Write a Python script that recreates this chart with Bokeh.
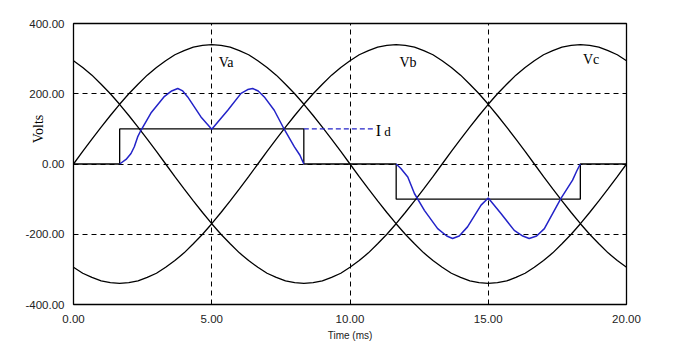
from bokeh.plotting import figure
from bokeh.models import Label, NumeralTickFormatter, FixedTicker
from bokeh.embed import file_html
from bokeh.resources import INLINE

# ---- data ----
t = [round(j / 3, 4) for j in range(61)]  # time in ms, sampling grid
va = [0, 36, 71, 105, 138, 170, 200, 227, 253, 275, 294, 311, 323, 333, 338, 340,
      338, 333, 323, 311, 294, 275, 253, 227, 200, 170, 138, 105, 71, 36, 0,
      -36, -71, -105, -138, -170, -200, -227, -253, -275, -294, -311, -323, -333, -338, -340,
      -338, -333, -323, -311, -294, -275, -253, -227, -200, -170, -138, -105, -71, -36, 0]
vb = [-294, -311, -323, -333, -338, -340, -338, -333, -323, -311, -294, -275, -253, -227, -200,
      -170, -138, -105, -71, -36,
      0, 36, 71, 105, 138, 170, 200, 227, 253, 275, 294, 311, 323, 333, 338, 340,
      338, 333, 323, 311, 294, 275, 253, 227, 200, 170, 138, 105, 71, 36, 0,
      -36, -71, -105, -138, -170, -200, -227, -253, -275, -294]
vc = [294, 275, 253, 227, 200, 170, 138, 105, 71, 36, 0, -36, -71, -105, -138, -170, -200,
      -227, -253, -275, -294, -311, -323, -333, -338, -340, -338, -333, -323, -311, -294,
      -275, -253, -227, -200, -170, -138, -105, -71, -36,
      0, 36, 71, 105, 138, 170, 200, 227, 253, 275, 294, 311, 323, 333, 338, 340,
      338, 333, 323, 311, 294]

id_t = [0, 1.67, 1.67, 8.33, 8.33, 11.67, 11.67, 18.33, 18.33, 20]
id_v = [0, 0, 100, 100, 0, 0, -100, -100, 0, 0]

pos_t = [1.67, 1.9, 2.08, 2.2, 2.32, 2.44, 2.8, 3.27, 3.55, 3.77, 3.95, 4.13, 4.61, 5.0,
         5.58, 6.06, 6.3, 6.48, 6.68, 6.9, 7.26, 7.62, 7.99, 8.19, 8.33]
pos_v = [0, 13, 30, 49, 77, 96, 145, 191, 208, 215, 208, 191, 134, 99,
         153, 201, 212, 215, 208, 191, 153, 99, 49, 25, 0]
neg_t = [11.67, 11.84, 12.09, 12.33, 12.69, 13.17, 13.5, 13.71, 13.95, 14.25, 14.74, 15.0,
         15.46, 15.94, 16.25, 16.48, 16.75, 17.03, 17.63, 18.05, 18.2, 18.33]
neg_v = [0, -13, -37, -84, -132, -184, -205, -212, -205, -179, -117, -97,
         -141, -189, -205, -212, -205, -184, -98, -46, -20, 0]

id_lead_t = [8.33, 10.94]
id_lead_v = [100, 100]

x_ticks = [0, 5, 10, 15, 20]
y_ticks = [-400, -200, 0, 200, 400]

# ---- figure ----
p = figure(width=675, height=349, x_range=(0, 20), y_range=(-400, 400),
           output_backend="svg", toolbar_location=None,
           min_border_left=73, min_border_right=49, min_border_top=23, min_border_bottom=45)
p.background_fill_color = "white"
p.border_fill_color = "white"
p.outline_line_color = "black"
p.outline_line_width = 1.3

for ax in (p.xaxis, p.yaxis):
    ax.axis_line_color = None
    ax.major_tick_line_color = None
    ax.minor_tick_line_color = None
    ax.major_tick_out = 0
    ax.major_tick_in = 0
    ax.major_label_text_font = "Liberation Sans"
    ax.major_label_text_font_size = "11.5px"
    ax.major_label_text_color = "#222222"
    ax.formatter = NumeralTickFormatter(format="0.00")

p.xaxis.ticker = FixedTicker(ticks=x_ticks)
p.yaxis.ticker = FixedTicker(ticks=y_ticks)
p.xaxis.major_label_standoff = 10
p.yaxis.major_label_standoff = 9
p.xaxis.axis_label = "Time (ms)"
p.xaxis.axis_label_text_font = "Liberation Sans"
p.xaxis.axis_label_text_font_size = "10px"
p.xaxis.axis_label_text_font_style = "normal"
p.xaxis.axis_label_text_color = "#222222"
p.xaxis.axis_label_standoff = 4

# y axis title sits between the 200 and 0 tick labels, as in the reference
p.yaxis.axis_label = "\u00a0" * 20 + "Volts"
p.yaxis.axis_label_text_font = "Liberation Serif"
p.yaxis.axis_label_text_font_size = "14px"
p.yaxis.axis_label_text_font_style = "normal"
p.yaxis.axis_label_text_color = "black"
p.yaxis.axis_label_standoff = -24

for g in (p.xgrid, p.ygrid):
    g.grid_line_color = "black"
    g.grid_line_dash = "5 4"
    g.grid_line_width = 1
    g.grid_line_alpha = 1.0

black_w = 1.3
p.line(t, va, line_color="black", line_width=black_w)
p.line(t, vb, line_color="black", line_width=black_w)
p.line(t, vc, line_color="black", line_width=black_w)
p.line(id_t, id_v, line_color="black", line_width=black_w)

blue = "#2323c8"
p.line(pos_t, pos_v, line_color=blue, line_width=1.5)
p.line(neg_t, neg_v, line_color=blue, line_width=1.5)
p.line(id_lead_t, id_lead_v, line_color=blue, line_width=1.2, line_dash="5 3")

serif = "Liberation Serif"
for txt, x, y in (("Va", 5.52, 290), ("Vb", 12.1, 290), ("Vc", 18.72, 298)):
    p.add_layout(Label(x=x, y=y, text=txt, text_font=serif, text_font_size="14px",
                       text_align="center", text_baseline="middle", text_color="black"))

p.add_layout(Label(x=11.03, y=95, text="I", text_font=serif, text_font_size="16px",
                   text_align="center", text_baseline="alphabetic", text_color="black"))
p.add_layout(Label(x=11.36, y=93, text="d", text_font=serif, text_font_size="13px",
                   text_align="center", text_baseline="alphabetic", text_color="black"))

open("out.html", "w").write(file_html(p, INLINE))
